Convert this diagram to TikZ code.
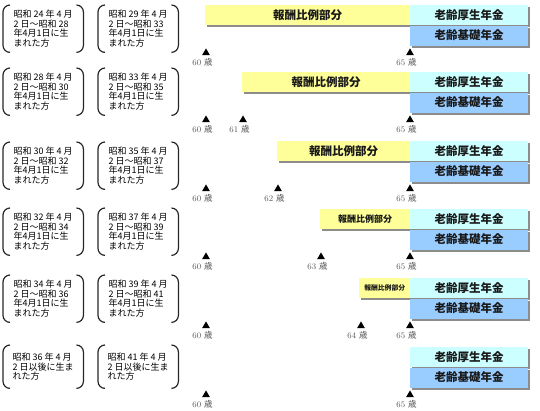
\documentclass[tikz,border=0pt]{standalone}
\usepackage{fontspec}
\newfontfamily\jp{Noto Sans CJK JP}
\usetikzlibrary{positioning, shapes.geometric, shadows}
\definecolor{hoshuyel}{RGB}{255,255,153}
\definecolor{koseicyan}{RGB}{204,255,255}
\definecolor{kisoblue}{RGB}{153,204,255}
\definecolor{agegray}{RGB}{85,85,85}
\newcommand\sai[1]{#1 {\jp 歳}}

\begin{document}
\begin{tikzpicture}[x=1pt, y=-1pt,
  birth/.style={anchor=north west, minimum width=80pt, minimum height=47pt,
                inner sep=0pt, align=left,
                font=\jp\fontsize{9}{9.5}\selectfont},
  brk/.style={draw=black!85, line width=1.2pt, rounded corners=7pt},
  shade/.style={drop shadow={shadow xshift=2pt, shadow yshift=-2pt,
                fill=black!45, opacity=1}},
  hoshu/.style={shade, fill=hoshuyel, anchor=north west, minimum height=20pt,
                inner sep=0pt, text=black!90, font=\jp\bfseries},
  kosei/.style={shade, fill=koseicyan, anchor=north west, minimum width=118pt,
                minimum height=20pt, inner sep=0pt, text=black!90,
                font=\jp\bfseries\fontsize{11.5}{12}\selectfont},
  kiso/.style={kosei, fill=kisoblue},
  tri/.style={regular polygon, regular polygon sides=3, fill=black,
              minimum size=9pt, inner sep=0pt, anchor=north},
  age/.style={text=agegray, inner sep=0pt, font=\fontsize{8.5}{9}\selectfont}]
\useasboundingbox (0,0) rectangle (540,411);

% birth dates
\foreach \i/\t/\a/\b/\c/\d in {1/5/24/28/29/33, 2/68/28/30/33/35,
    3/142/30/32/35/37, 4/208/32/34/37/39, 5/275/34/36/39/41} {
  \node[birth] (umareA\i) at (3,\t)
    {昭和 \a\ 年 4 月\\2 日～昭和 \b\\年4月1日に生\\まれた方};
  \node[birth] (umareB\i) at (98,\t)
    {昭和 \c\ 年 4 月\\2 日～昭和 \d\\年4月1日に生\\まれた方};
}
\node[birth, minimum height=43pt] (umareA6) at (3,345)
  {昭和 36 年 4 月\\2 日以後に生ま\\れた方};
\node[birth, minimum height=43pt] (umareB6) at (98,345)
  {昭和 41 年 4 月\\2 日以後に生ま\\れた方};
\foreach \i in {1,...,6} {
  \draw[brk] (umareA\i.north west) ++(7,0) -- ++(-7,0) -- (umareA\i.south west) -- ++(7,0);
  \draw[brk] (umareA\i.north east) ++(-7,0) -- ++(7,0) -- (umareA\i.south east) -- ++(-7,0);
  \draw[brk] (umareB\i.north west) ++(7,0) -- ++(-7,0) -- (umareB\i.south west) -- ++(7,0);
  \draw[brk] (umareB\i.north east) ++(-7,0) -- ++(7,0) -- (umareB\i.south east) -- ++(-7,0);
}

% earnings-related part
\node[hoshu, minimum width=205pt, font=\jp\bfseries\fontsize{11.5}{12}\selectfont]
  (hoshu1) at (205,5) {報酬比例部分};
\node[hoshu, minimum width=168pt, font=\jp\bfseries\fontsize{11.5}{12}\selectfont]
  (hoshu2) at (242,72) {報酬比例部分};
\node[hoshu, minimum width=133pt, font=\jp\bfseries\fontsize{11.5}{12}\selectfont]
  (hoshu3) at (277,141) {報酬比例部分};
\node[hoshu, minimum width=90pt, font=\jp\bfseries\fontsize{9}{10}\selectfont]
  (hoshu4) at (320,209) {報酬比例部分};
\node[hoshu, minimum width=51pt, font=\jp\bfseries\fontsize{6.8}{7}\selectfont]
  (hoshu5) at (359,278) {報酬比例部分};

% pensions from 65, ages 60 and 65
\foreach \i/\t in {1/5, 2/72, 3/141, 4/209, 5/278, 6/347} {
  \node[kosei] (kosei\i) at (410,\t) {老齢厚生年金};
  \node[kiso, below=0pt of kosei\i] (kiso\i) {老齢基礎年金};
  \node[tri] (sixty\i) at (206,\t+43) {};
  \node[tri] (sixtyfive\i) at (410,\t+43) {};
  \node[age, below=3pt of sixty\i, xshift=-3.5pt] (agesixty\i) {\sai{60}};
  \node[age, below=3pt of sixtyfive\i, xshift=-3.5pt] (agesixtyfive\i) {\sai{65}};
}

% start of earnings-related part
\node[tri] (mid2) at (243,115) {};
\node[age, below=3pt of mid2, xshift=-3.5pt] (agemid2) {\sai{61}};
\node[tri] (mid3) at (278,184) {};
\node[age, below=3pt of mid3, xshift=-3.5pt] (agemid3) {\sai{62}};
\node[tri] (mid4) at (321,252) {};
\node[age, below=3pt of mid4, xshift=-3.5pt] (agemid4) {\sai{63}};
\node[tri] (mid5) at (361,321) {};
\node[age, below=3pt of mid5, xshift=-3.5pt] (agemid5) {\sai{64}};
\end{tikzpicture}
\end{document}
